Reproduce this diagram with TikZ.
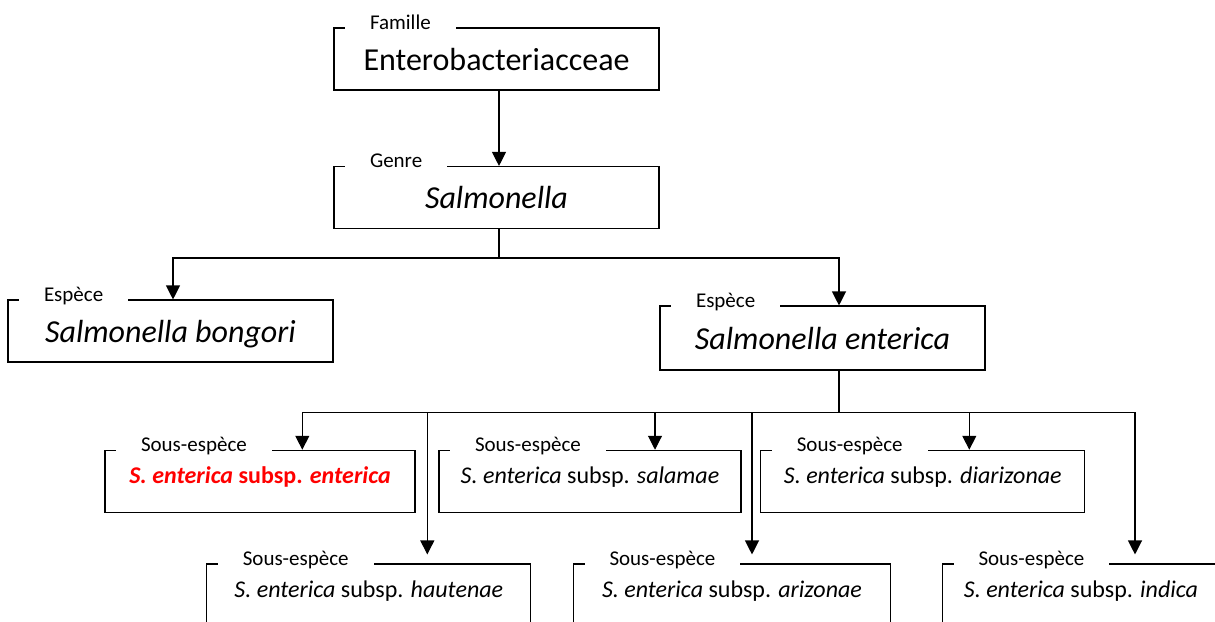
\documentclass[tikz,border=0pt]{standalone}
\usepackage{fontspec}
\setmainfont{Carlito}
\usetikzlibrary{arrows.meta}
\begin{document}
\begin{tikzpicture}[
    x			= 1pt,
    y			= -1pt,
    line width		= 1.1pt,
    >={Triangle[length=14pt,width=14pt]},
    boite/.style	= {draw, rectangle, inner sep=0pt, minimum height=62pt},
    grand/.style	= {boite, font=\fontsize{32}{38}\selectfont, text height=22pt, text depth=0pt},
    petit/.style	= {boite, font=\fontsize{24}{29}\selectfont, text height=12pt, text depth=8pt},
    rang/.style		= {fill=white, inner xsep=25pt, inner ysep=1pt, anchor=base west, font=\fontsize{21}{25}\selectfont}
  ]
\useasboundingbox (0,0) rectangle (1215,621);
\clip (0,0) rectangle (1215,621);
% famille et genre
\node[grand, minimum width=325pt] (fam) at (496.5,59) {Enterobacteriacceae};
\node[rang] (lfam) at ([xshift=11pt,yshift=-2pt]fam.north west) {Famille};
\node[grand, minimum width=325pt] (gen) at (496.5,197.5) {\textit{Salmonella}};
\node[rang] (lgen) at ([xshift=11pt,yshift=-2pt]gen.north west) {Genre};
% especes
\node[grand, minimum width=325pt] (bong) at (170.5,331) {\textit{Salmonella bongori}};
\node[rang] (lbong) at ([xshift=11pt,yshift=-2pt]bong.north west) {Espèce};
\node[grand, minimum width=325pt, minimum height=64pt] (ent) at (822.5,338) {\textit{Salmonella enterica}};
\node[rang] (lent) at ([xshift=11pt,yshift=-2pt]ent.north west) {Espèce};
% sous-especes, premier rang
\node[petit, minimum width=310pt, text=red] (sub1) at (260,481.3) {\bfseries\textit{S. enterica} subsp. \textit{enterica}};
\node[rang] (lsub1) at ([xshift=11pt,yshift=-2pt]sub1.north west) {Sous-espèce};
\node[petit, minimum width=302pt] (sub2) at (590,481.3) {\textit{S. enterica} subsp. \textit{salamae}};
\node[rang] (lsub2) at ([xshift=11pt,yshift=-2pt]sub2.north west) {Sous-espèce};
\node[petit, minimum width=324pt] (sub3) at (922.8,481.3) {\textit{S. enterica} subsp. \textit{diarizonae}};
\node[rang] (lsub3) at ([xshift=11pt,yshift=-2pt]sub3.north west) {Sous-espèce};
% sous-especes, second rang
\node[petit, minimum width=324pt] (sub4) at (368.8,595) {\textit{S. enterica} subsp. \textit{hautenae}};
\node[rang] (lsub4) at ([xshift=11pt,yshift=-2pt]sub4.north west) {Sous-espèce};
\node[petit, minimum width=317pt] (sub5) at (732,595) {\textit{S. enterica} subsp. \textit{arizonae}};
\node[rang] (lsub5) at ([xshift=11pt,yshift=-2pt]sub5.north west) {Sous-espèce};
\node[petit, minimum width=277pt] (sub6) at (1081,595) {\textit{S. enterica} subsp. \textit{indica}};
\node[rang] (lsub6) at ([xshift=11pt,yshift=-2pt]sub6.north west) {Sous-espèce};
% fleches
\draw[->] ([xshift=2.5pt]fam.south) -- ([xshift=2.5pt]gen.north);
\coordinate (j1) at (499,258);
\draw (gen.south -| j1) -- (j1);
\draw[->] (j1) -| ([xshift=2.5pt]bong.north);
\draw[->] (j1) -| ([xshift=16.5pt]ent.north);
\coordinate (j2) at (839,412.7);
\draw (ent.south -| j2) -- (j2);
\draw[->] (j2) -| ([xshift=42.3pt]sub1.north);
\draw[->] (j2) -| ([xshift=65pt]sub2.north);
\draw[->] (j2) -| ([xshift=46.5pt]sub3.north);
\draw[->, shorten >=9pt] (j2) -| ([xshift=58.5pt]sub4.north);
\draw[->, shorten >=9pt] (j2) -| ([xshift=20pt]sub5.north);
\draw[->, shorten >=9pt] (j2) -| ([xshift=54pt]sub6.north);
%
\end{tikzpicture}
\end{document}
